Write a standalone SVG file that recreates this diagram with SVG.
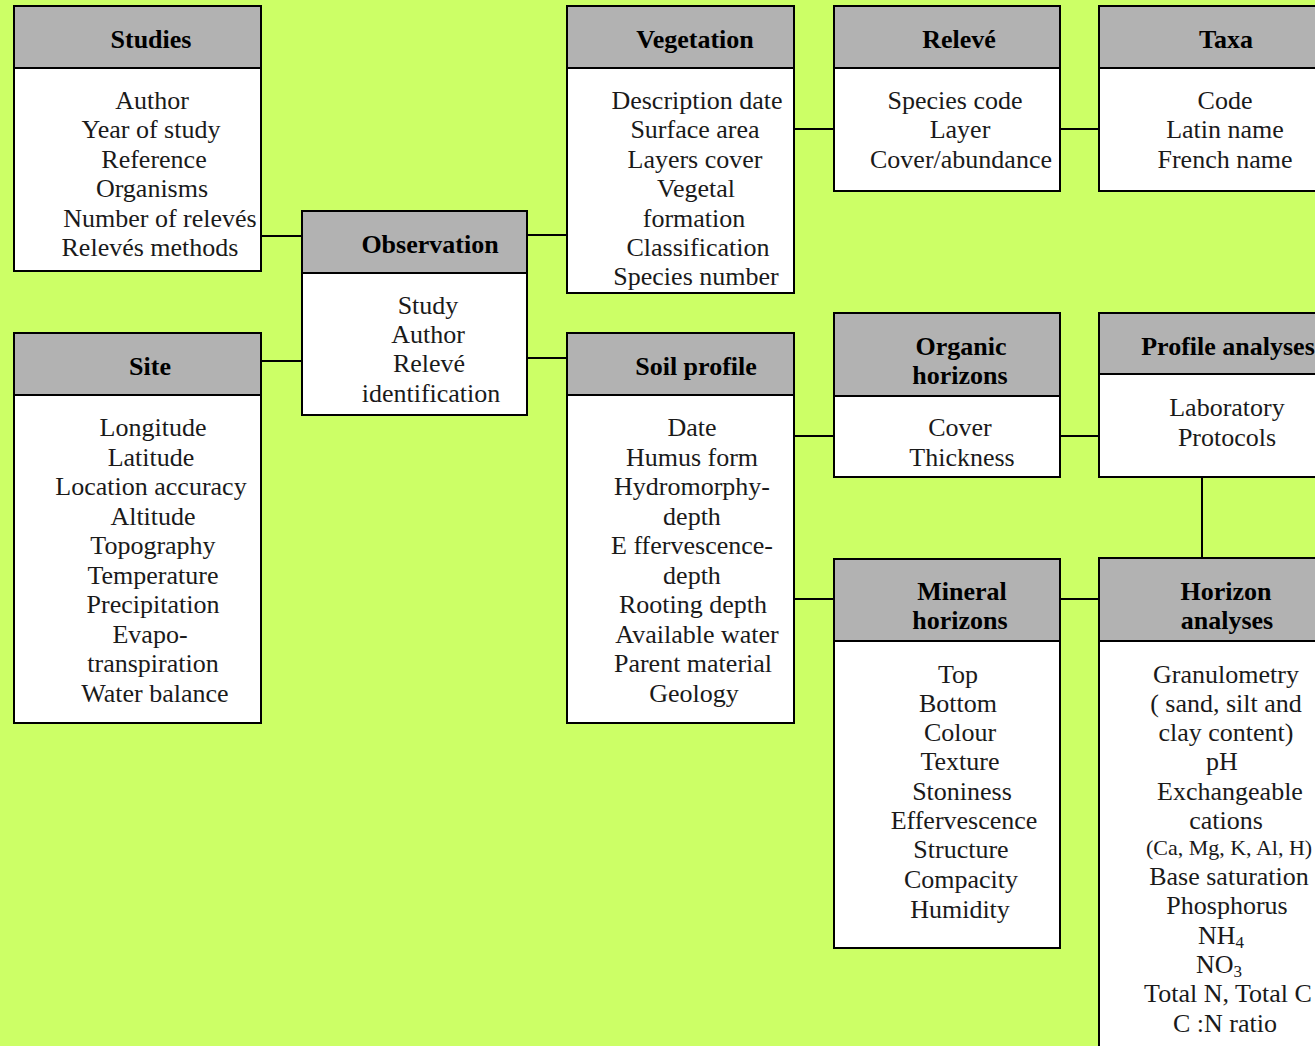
<svg xmlns="http://www.w3.org/2000/svg" width="1315" height="1046" viewBox="0 0 1315 1046">
<style>
.hd{fill:#b2b2b2;stroke:#000;stroke-width:2}
.bd{fill:#fff;stroke:#000;stroke-width:2}
text{font-family:'Liberation Serif','Times New Roman','DejaVu Serif',serif}
.ht{font-weight:bold;font-size:26px;fill:#000;text-anchor:middle}
.bt{font-size:26px;fill:#1a1a1a;text-anchor:middle}
.sm{font-size:22px}
.sub{font-size:17px}
.cn{stroke:#000;stroke-width:2;fill:none}
</style>
<rect width="1315" height="1046" fill="#ccff66"/>
<g id="connectors">
<path class="cn" d="M261 236H302M261 361H302M527 235H567M527 358H567M794 129H834M1060 129H1099M794 436H834M1060 436H1099M794 599H834M1060 599H1099M1202 477V558"/>
</g>
<g id="studies">
<rect class="hd" x="14" y="6" width="247" height="62"/>
<rect class="bd" x="14" y="68" width="247" height="203"/>
<text class="ht" x="151" y="48">Studies</text>
<text class="bt" x="152" y="109">Author</text>
<text class="bt" x="151" y="138">Year of study</text>
<text class="bt" x="154" y="168">Reference</text>
<text class="bt" x="152" y="197">Organisms</text>
<text class="bt" x="160" y="227">Number of relevés</text>
<text class="bt" x="150" y="256">Relevés  methods</text>
</g>
<g id="observation">
<rect class="hd" x="302" y="211" width="225" height="62"/>
<rect class="bd" x="302" y="273" width="225" height="142"/>
<text class="ht" x="430" y="253">Observation</text>
<text class="bt" x="428" y="314">Study</text>
<text class="bt" x="428" y="343">Author</text>
<text class="bt" x="429" y="372">Relevé</text>
<text class="bt" x="431" y="402">identification</text>
</g>
<g id="site">
<rect class="hd" x="14" y="333" width="247" height="62"/>
<rect class="bd" x="14" y="395" width="247" height="328"/>
<text class="ht" x="150" y="375">Site</text>
<text class="bt" x="153" y="436">Longitude</text>
<text class="bt" x="151" y="466">Latitude</text>
<text class="bt" x="151" y="495">Location accuracy</text>
<text class="bt" x="153" y="525">Altitude</text>
<text class="bt" x="153" y="554">Topography</text>
<text class="bt" x="153" y="584">Temperature</text>
<text class="bt" x="153" y="613">Precipitation</text>
<text class="bt" x="150" y="643">Evapo-</text>
<text class="bt" x="153" y="672">transpiration</text>
<text class="bt" x="155" y="702">Water balance</text>
</g>
<g id="vegetation">
<rect class="hd" x="567" y="6" width="227" height="62"/>
<rect class="bd" x="567" y="68" width="227" height="225"/>
<text class="ht" x="695" y="48">Vegetation</text>
<text class="bt" x="697" y="109">Description date</text>
<text class="bt" x="695" y="138">Surface area</text>
<text class="bt" x="695" y="168">Layers cover</text>
<text class="bt" x="696" y="197">Vegetal</text>
<text class="bt" x="694" y="227">formation</text>
<text class="bt" x="698" y="256">Classification</text>
<text class="bt" x="696" y="285">Species number</text>
</g>
<g id="releve">
<rect class="hd" x="834" y="6" width="226" height="62"/>
<rect class="bd" x="834" y="68" width="226" height="123"/>
<text class="ht" x="959" y="48">Relevé</text>
<text class="bt" x="955" y="109">Species code</text>
<text class="bt" x="960" y="138">Layer</text>
<text class="bt" x="961" y="168">Cover/abundance</text>
</g>
<g id="taxa">
<rect class="hd" x="1099" y="6" width="240" height="62"/>
<rect class="bd" x="1099" y="68" width="240" height="123"/>
<text class="ht" x="1226" y="48">Taxa</text>
<text class="bt" x="1225" y="109">Code</text>
<text class="bt" x="1225" y="138">Latin name</text>
<text class="bt" x="1225" y="168">French name</text>
</g>
<g id="soil-profile">
<rect class="hd" x="567" y="333" width="227" height="62"/>
<rect class="bd" x="567" y="395" width="227" height="328"/>
<text class="ht" x="696" y="375">Soil profile</text>
<text class="bt" x="692" y="436">Date</text>
<text class="bt" x="692" y="466">Humus form</text>
<text class="bt" x="692" y="495">Hydromorphy-</text>
<text class="bt" x="692" y="525">depth</text>
<text class="bt" x="692" y="554">E ffervescence-</text>
<text class="bt" x="692" y="584">depth</text>
<text class="bt" x="693" y="613">Rooting depth</text>
<text class="bt" x="697" y="643">Available water</text>
<text class="bt" x="693" y="672">Parent material</text>
<text class="bt" x="694" y="702">Geology</text>
</g>
<g id="organic-horizons">
<rect class="hd" x="834" y="313" width="226" height="83"/>
<rect class="bd" x="834" y="396" width="226" height="81"/>
<text class="ht" x="961" y="355">Organic</text>
<text class="ht" x="960" y="384">horizons</text>
<text class="bt" x="960" y="436">Cover</text>
<text class="bt" x="962" y="466">Thickness</text>
</g>
<g id="profile-analyses">
<rect class="hd" x="1099" y="313" width="240" height="61"/>
<rect class="bd" x="1099" y="374" width="240" height="103"/>
<text class="ht" x="1228" y="355">Profile analyses</text>
<text class="bt" x="1227" y="416">Laboratory</text>
<text class="bt" x="1227" y="446">Protocols</text>
</g>
<g id="mineral-horizons">
<rect class="hd" x="834" y="559" width="226" height="82"/>
<rect class="bd" x="834" y="641" width="226" height="307"/>
<text class="ht" x="962" y="600">Mineral</text>
<text class="ht" x="960" y="629">horizons</text>
<text class="bt" x="958" y="683">Top</text>
<text class="bt" x="958" y="712">Bottom</text>
<text class="bt" x="960" y="741">Colour</text>
<text class="bt" x="960" y="770">Texture</text>
<text class="bt" x="962" y="800">Stoniness</text>
<text class="bt" x="964" y="829">Effervescence</text>
<text class="bt" x="961" y="858">Structure</text>
<text class="bt" x="961" y="888">Compacity</text>
<text class="bt" x="960" y="918">Humidity</text>
</g>
<g id="horizon-analyses">
<rect class="hd" x="1099" y="558" width="240" height="83"/>
<rect class="bd" x="1099" y="641" width="240" height="420"/>
<text class="ht" x="1226" y="600">Horizon</text>
<text class="ht" x="1227" y="629">analyses</text>
<text class="bt" x="1226" y="683">Granulometry</text>
<text class="bt" x="1226" y="712">( sand, silt and</text>
<text class="bt" x="1226" y="741">clay content)</text>
<text class="bt" x="1222" y="770">pH</text>
<text class="bt" x="1230" y="800">Exchangeable</text>
<text class="bt" x="1226" y="829">cations</text>
<text class="bt sm" x="1229" y="855">(Ca, Mg, K, Al, H)</text>
<text class="bt" x="1229" y="885">Base saturation</text>
<text class="bt" x="1227" y="914">Phosphorus</text>
<text class="bt" x="1221" y="944">NH<tspan class="sub" dy="4">4</tspan></text>
<text class="bt" x="1219" y="973">NO<tspan class="sub" dy="4">3</tspan></text>
<text class="bt" x="1228" y="1002">Total N, Total C</text>
<text class="bt" x="1225" y="1032">C :N ratio</text>
</g>
</svg>
